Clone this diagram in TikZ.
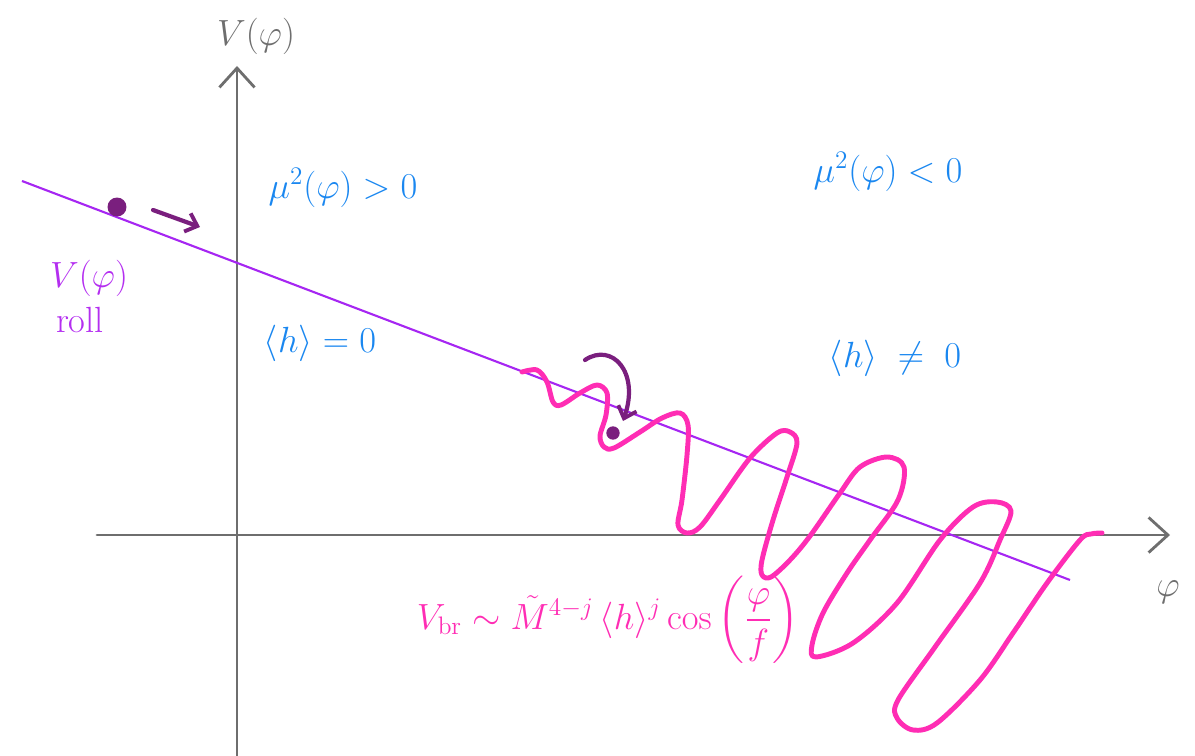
\documentclass[tikz,border=0pt]{standalone}
\usepackage{amsmath}
\usetikzlibrary{arrows.meta}
\definecolor{axisgray}{HTML}{6E6E6E}
\definecolor{linepurple}{HTML}{A626F2}
\definecolor{darkpurple}{HTML}{7A1F7E}
\definecolor{wavepink}{HTML}{FF2DB4}
\definecolor{labelblue}{HTML}{1A87F0}
\definecolor{textpurple}{HTML}{B42EF0}
\tikzset{
  axisline/.style={draw=axisgray, line width=1.6pt, line cap=round, -{Straight Barb[length=11pt,width=20pt,line width=1.6pt]}},
  potline/.style={draw=linepurple, line width=1.2pt},
  wave/.style={draw=wavepink, line width=2.8pt, line cap=round, line join=round},
  rollarrow/.style={draw=darkpurple, line width=2.4pt, line cap=round, -{Straight Barb[length=6pt,width=11pt,line width=2.2pt]}},
  ball/.style={fill=darkpurple},
  bluelabel/.style={text=labelblue, font=\huge, inner sep=0pt},
  purplelabel/.style={text=textpurple, font=\huge, inner sep=0pt},
  graylabel/.style={text=axisgray, font=\huge, inner sep=0pt},
  pinklabel/.style={text=wavepink, font=\huge, inner sep=0pt}
}
\begin{document}
\begin{tikzpicture}[x=0.02cm, y=-0.02cm]
\useasboundingbox (0,0) rectangle (1195,756);
% axes
\coordinate (ybot) at (237,756);
\coordinate (ytop) at (237,66);
\coordinate (xleft) at (97,535);
\coordinate (xright) at (1170,535);
\draw[axisline] (ybot) -- (ytop);
\draw[axisline] (xleft) -- (xright);
\node[graylabel] (vlab) at (256,36) {$V(\varphi)$};
\node[graylabel] (philab) at (1168,592) {$\varphi$};
% potential line
\coordinate (pstart) at (22,181);
\coordinate (pend) at (1070,580);
\draw[potline] (pstart) -- (pend);
% rolling ball
\fill[ball] (117,207) circle (5.4pt) coordinate (ball1);
\coordinate (ra1) at (153,210);
\coordinate (ra2) at (200,227);
\draw[rollarrow] (ra1) -- (ra2);
\node[purplelabel] (vroll) at (89,278) {$V(\varphi)$};
\node[purplelabel] (roll) at (80,320) {roll};
% blue labels
\node[bluelabel] (mupos) at (343,188) {$\mu^2(\varphi)>0$};
\node[bluelabel] (hzero) at (320,343) {$\langle h\rangle=0$};
\node[bluelabel] (muneg) at (888,172) {$\mu^2(\varphi)<0$};
\node[bluelabel] (hnonzero) at (895,358) {$\langle h\rangle\;\neq\; 0$};
% wave
\draw[wave] plot[smooth, tension=0.55] coordinates {
(522,372) (537,370) (547,382) (553,402) (561,405) (580,393) (597,385) (607,393)
(606,415) (600,436) (604,447) (614,448) (640,432) (662,418) (680,413) (688,425)
(687,455) (682,500) (678,525) (687,533) (700,527) (720,500) (750,458) (777,433)
(790,432) (797,443) (787,477) (773,520) (762,560) (762,575) (771,577) (790,560)
(810,536) (840,493) (860,467) (887,457) (904,467) (898,500) (870,540) (847,573)
(823,613) (812,645) (816,657) (853,643) (897,603) (940,540) (973,507) (997,502)
(1011,511) (1000,540) (980,583) (935,647) (898,700) (897,718) (913,730) (937,723)
(980,680) (1013,633) (1047,583) (1080,540) (1091,534) (1102,533)};
% ball in minimum
\fill[ball] (613,433) circle (3.8pt) coordinate (ball2);
\coordinate (ca1) at (585,360);
\coordinate (ca2) at (623,421);
\draw[rollarrow] (ca1) .. controls (612,342) and (640,372) .. (ca2);
% formula
\node[pinklabel] (vbr) at (608,620) {$V_{\mathrm{br}}\sim\tilde{M}^{4-j}\,\langle h\rangle^{j}\cos\left(\dfrac{\varphi}{f}\right)$};
\end{tikzpicture}
\end{document}
